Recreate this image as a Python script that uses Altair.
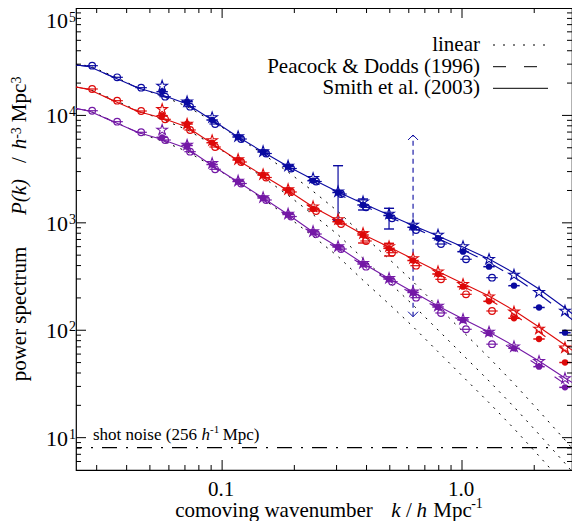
import altair as alt
import pandas as pd

FONT = "Liberation Serif"
BLUE, RED, PURPLE = "#0a0aa0", "#dd0a0a", "#7419a6"
SERIES = ["blue", "red", "purple"]

# ---------------- data ----------------
k_pts = [0.02791, 0.03548, 0.04467, 0.05623, 0.07145, 0.09085, 0.1166, 0.1482, 0.1884, 0.2394,
         0.3043, 0.3868, 0.4964, 0.6251, 0.7943, 1.0097, 1.296, 1.647, 2.094, 2.687]

# open circles (first 17 wavenumbers)
blue_open = [29030, 22640, 18115, 14940, 12060, 8320, 6030, 4420, 3205, 2426, 1855, 1395, 1102, 858, 635, 458, 308.5]
red_open = [17620, 13710, 10990, 9200, 7316, 5082, 3685, 2643, 1938, 1289, 975.5, 677.6, 527, 399, 298, 216.1, 151.1]
purple_open = [11060, 8741, 6965, 5904, 4595, 3150, 2324, 1632, 1145, 787, 570.7, 390.5, 283.2, 201, 144.8, 102.1, 74.2]
# filled circles and stars (wavenumbers 4..20)
blue_filled = [16630, 13420, 9064, 6297, 4566, 3346, 2468, 1916, 1466, 1170, 909, 718, 539, 390.5, 260, 162.9, 94.9]
red_filled = [9940, 8320, 5572, 3846, 2788, 2022, 1345, 1025, 770.5, 579, 446, 334, 254.4, 186, 129.2, 82.9, 50.1]
purple_filled = [6256, 5248, 3492, 2426, 1703, 1196, 821.7, 595.8, 413.9, 300, 224.7, 164.6, 124.6, 94.3, 67.9, 45.8, 29.4]
blue_star = [18790, 13420, 9564, 6364, 4615, 3382, 2598, 1949, 1573, 1209, 955, 770.5, 602, 458, 327, 225.6, 151.1]
red_star = [11400, 8320, 5841, 3888, 2818, 2044, 1413, 1074, 796, 602, 465.6, 350.9, 267.8, 205.3, 148.2, 102.7, 68.8]
purple_star = [7316, 5304, 3583, 2452, 1721, 1209, 830.6, 602, 420.1, 304.6, 228.5, 168.2, 126.5, 96.3, 70.3, 51.4, 35.6]

k_curve = [0.02464, 0.02791, 0.03548, 0.04467, 0.05623, 0.07145, 0.09085, 0.1166, 0.1482, 0.1884, 0.2394,
           0.3043, 0.3868, 0.4964, 0.6251, 0.7943, 1.0097, 1.296, 1.647, 2.094, 2.687, 3.0]
blue_smith = [29470, 28540, 22540, 18000, 15500, 12770, 9064, 6297, 4566, 3346, 2532, 1937, 1514, 1183, 944.6, 754.2, 595.8, 460.6, 341.3, 242.2, 161.1, 132.9]
blue_pd = [29470, 28540, 22540, 18000, 15160, 12500, 8874, 6098, 4374, 3205, 2426, 1855, 1450, 1133, 904.8, 714.9, 558.7, 427.3, 313.2, 217.5, 141.7, 116.8]
blue_lin = [29600, 29026, 23041, 18100, 15167, 12111, 8876, 6233, 4375, 2973, 1966, 1276, 765.8, 460.6, 283.1, 165.8, 97.0, 55.55, 31.89, 17.72, 9.519, 7.128]
red_smith = [18390, 17430, 13620, 10880, 9462, 7802, 5478, 3805, 2759, 2000, 1404, 1051, 778.8, 595.8, 460.6, 352.4, 272.4, 208.4, 152.7, 107.2, 72.9, 60.8]
red_pd = [18390, 17430, 13620, 10880, 9261, 7637, 5361, 3685, 2643, 1916, 1345, 1007, 746.1, 570.7, 441.3, 334, 255.5, 193.4, 140.2, 96.3, 64.1, 53.4]
red_lin = [18300, 17613, 13981, 11000, 9203, 7349, 5386, 3782, 2655, 1804, 1193, 774.1, 464.7, 279.5, 171.8, 100.6, 58.86, 33.71, 19.35, 10.75, 5.776, 4.325]
purple_smith = [11590, 10990, 8685, 6934, 5968, 4921, 3418, 2400, 1703, 1196, 821.7, 595.8, 418.3, 303.3, 227.1, 168.2, 127.3, 96.3, 71.4, 51.7, 35.9, 30.9]
purple_pd = [11590, 10990, 8685, 6934, 5841, 4817, 3346, 2324, 1632, 1145, 787.2, 570.7, 400.7, 290.6, 217.5, 159.4, 119.4, 89.4, 65.5, 46.5, 31.6, 27.2]
purple_lin = [11500, 11060, 8779, 6900, 5779, 4615, 3382, 2375, 1667, 1133, 749.3, 486.1, 291.8, 175.5, 107.9, 63.15, 36.96, 21.17, 12.15, 6.753, 3.627, 2.716]

err_series = ["blue", "blue", "blue", "red", "red"]
err_k = [0.3043, 0.3868, 0.4964, 0.3868, 0.4964]
err_lo = [1063, 1317, 876.3, 649.1, 491.2]
err_hi = [3403, 1667, 1366, 821.7, 644.9]

arrow_k = [0.6251]
arrow_lo = [133.7]
arrow_hi = [6573]

shot_noise = [8.07]

x_major = [0.1, 1.0]
x_minor = [0.03, 0.04, 0.05, 0.06, 0.07, 0.08, 0.09, 0.2, 0.3, 0.4, 0.5, 0.6, 0.7, 0.8, 0.9, 2.0]
y_major = [10, 100, 1000, 10000]
y_minor = [6, 7, 8, 9, 20, 30, 40, 50, 60, 70, 80, 90, 200, 300, 400, 500, 600, 700, 800, 900,
           2000, 3000, 4000, 5000, 6000, 7000, 8000, 9000, 20000, 30000, 40000, 50000, 60000, 70000, 80000, 90000]
x_labels = ["0.1", "1.0"]
y_label_values = [10, 100, 1000, 10000]
y_label_exp = ["1", "2", "3", "4"]

# ---------------- tables ----------------
rows = []
for s, o, f, st in [("blue", blue_open, blue_filled, blue_star),
                    ("red", red_open, red_filled, red_star),
                    ("purple", purple_open, purple_filled, purple_star)]:
    for k, v in zip(k_pts[:17], o):
        rows.append({"series": s, "kind": "open", "k": k, "P": v})
    for k, v in zip(k_pts[3:], f):
        rows.append({"series": s, "kind": "filled", "k": k, "P": v})
    for k, v in zip(k_pts[3:], st):
        rows.append({"series": s, "kind": "star", "k": k, "P": v})
pts = pd.DataFrame(rows)

crow = []
for s, sm, pdd, li in [("blue", blue_smith, blue_pd, blue_lin),
                       ("red", red_smith, red_pd, red_lin),
                       ("purple", purple_smith, purple_pd, purple_lin)]:
    for k, a, b, c in zip(k_curve, sm, pdd, li):
        crow.append({"series": s, "model": "smith", "k": k, "P": a})
        crow.append({"series": s, "model": "pd", "k": k, "P": b})
        crow.append({"series": s, "model": "linear", "k": k, "P": c})
curves = pd.DataFrame(crow)

err = pd.DataFrame({"series": err_series, "k": err_k, "lo": err_lo, "hi": err_hi})
caps = pd.concat([err[["series", "k"]].assign(P=err["lo"]), err[["series", "k"]].assign(P=err["hi"])])
arrow = pd.DataFrame({"k": arrow_k, "lo": arrow_lo, "hi": arrow_hi})

# ---------------- scales ----------------
W, H = 496, 462
xs = alt.Scale(type="log", domain=[0.0246, 2.874], nice=False)
ys = alt.Scale(type="log", domain=[5, 100000], nice=False)
cs = alt.Scale(domain=SERIES, range=[BLUE, RED, PURPLE])


def X(f="k"):
    return alt.X(f"{f}:Q", scale=xs, axis=None)


def Y(f="P"):
    return alt.Y(f"{f}:Q", scale=ys, axis=None)


C = alt.Color("series:N", scale=cs, legend=None)
STAR = ("M0,-1L0.2245,-0.309L0.951,-0.309L0.363,0.118L0.588,0.809L0,0.382"
        "L-0.588,0.809L-0.363,0.118L-0.951,-0.309L-0.2245,-0.309Z")

base_c = alt.Chart(curves)
lin_l = base_c.transform_filter("datum.model == 'linear'").mark_line(
    color="black", strokeDash=[2, 6], strokeWidth=1, clip=True).encode(x=X(), y=Y(), detail="series:N")
pd_l = base_c.transform_filter("datum.model == 'pd'").mark_line(
    strokeDash=[12, 17], strokeWidth=1.1, clip=True).encode(x=X(), y=Y(), color=C)
sm_l = base_c.transform_filter("datum.model == 'smith'").mark_line(
    strokeWidth=1.1, clip=True).encode(x=X(), y=Y(), color=C)

base_p = alt.Chart(pts)
open_c = base_p.transform_filter("datum.kind == 'open'").mark_point(
    shape="circle", filled=False, size=44, strokeWidth=1.2, opacity=1, xOffset=3).encode(x=X(), y=Y(), color=C)
open_b = base_p.transform_filter("datum.kind == 'open'").mark_point(
    shape="stroke", size=130, strokeWidth=1.2, opacity=1, xOffset=3).encode(x=X(), y=Y(), color=C)
fill_c = base_p.transform_filter("datum.kind == 'filled'").mark_point(
    shape="circle", filled=True, size=40, opacity=1).encode(x=X(), y=Y(), color=C)
fill_b = base_p.transform_filter("datum.kind == 'filled'").mark_point(
    shape="stroke", size=130, strokeWidth=1.5, opacity=1).encode(x=X(), y=Y(), color=C)
star_p = base_p.transform_filter("datum.kind == 'star'").mark_point(
    shape=STAR, filled=False, size=125, strokeWidth=1.1, opacity=1).encode(x=X(), y=Y(), color=C)

err_r = alt.Chart(err).mark_rule(strokeWidth=1.2).encode(x=X(), y=Y("lo"), y2="hi:Q", color=C)
err_c = alt.Chart(caps).mark_point(shape="stroke", size=100, strokeWidth=1.4, opacity=1).encode(
    x=X(), y=Y(), color=C)

arr_r = alt.Chart(arrow).mark_rule(strokeDash=[5, 4], strokeWidth=1.1, color=BLUE).encode(
    x=X(), y=Y("lo"), y2="hi:Q")
arr_up = alt.Chart(arrow).mark_point(shape="M-1,1L0,0L1,1", filled=False, size=100, strokeWidth=1,
                                     opacity=1, color=BLUE).encode(x=X(), y=Y("hi"))
arr_dn = alt.Chart(arrow).mark_point(shape="M-1,-1L0,0L1,-1", filled=False, size=100, strokeWidth=1,
                                     opacity=1, color=BLUE).encode(x=X(), y=Y("lo"))

shot = alt.Chart(pd.DataFrame({"P": shot_noise})).mark_rule(
    color="black", strokeDash=[15, 9, 2, 9], strokeWidth=1.1).encode(y=Y())


# ---------------- inward ticks ----------------
def xticks(vals, ln):
    d = alt.Chart(pd.DataFrame({"k": vals}))
    b = d.mark_rule(color="black", strokeWidth=1).encode(x=X(), y=alt.value(H), y2=alt.value(H - ln))
    t = d.mark_rule(color="black", strokeWidth=1).encode(x=X(), y=alt.value(0), y2=alt.value(ln))
    return [b, t]


def yticks(vals, ln):
    d = alt.Chart(pd.DataFrame({"P": vals}))
    l = d.mark_rule(color="black", strokeWidth=1).encode(y=Y(), x=alt.value(0), x2=alt.value(ln))
    r = d.mark_rule(color="black", strokeWidth=1).encode(y=Y(), x=alt.value(W), x2=alt.value(W - ln))
    return [l, r]


ticks = xticks(x_major, 10) + xticks(x_minor, 5) + yticks(y_major, 10) + yticks(y_minor, 5)


# ---------------- text ----------------
def txt(s, x, y, size=21, style="normal", align="left", angle=0):
    return alt.Chart(pd.DataFrame({"t": [s]})).mark_text(
        font=FONT, fontSize=size, fontStyle=style, align=align, baseline="alphabetic",
        angle=angle, color="black").encode(x=alt.value(x), y=alt.value(y), text="t:N")


ylab_df = pd.DataFrame({"P": y_label_values, "base": ["10"] * 4, "exp": y_label_exp})
ylab = alt.Chart(ylab_df).mark_text(font=FONT, fontSize=22, align="right", baseline="alphabetic",
                                    dy=8, color="black").encode(x=alt.value(-8), y=Y(), text="base:N")
yexp = alt.Chart(ylab_df).mark_text(font=FONT, fontSize=14, align="left", baseline="alphabetic",
                                    dy=1, color="black").encode(x=alt.value(-7), y=Y(), text="exp:N")
top_df = pd.DataFrame({"P": [100000], "base": ["10"], "exp": ["5"]})
ylab5 = alt.Chart(top_df).mark_text(font=FONT, fontSize=22, align="right", baseline="alphabetic",
                                    dy=19.5, color="black").encode(x=alt.value(-8), y=Y(), text="base:N")
yexp5 = alt.Chart(top_df).mark_text(font=FONT, fontSize=14, align="left", baseline="alphabetic",
                                    dy=13.5, color="black").encode(x=alt.value(-7), y=Y(), text="exp:N")
xlab = alt.Chart(pd.DataFrame({"k": x_major, "lab": x_labels})).mark_text(
    font=FONT, fontSize=21, align="center", baseline="alphabetic", dx=-1, color="black").encode(
    x=X(), y=alt.value(487.5), text="lab:N")

texts = [
    # x title
    txt("comoving wavenumber", 198, 509, align="center"),
    txt("k", 320, 509, style="italic", align="center"),
    txt("/", 333, 509, align="center"),
    txt("h", 345.7, 509, style="italic", align="center"),
    txt("Mpc", 376.5, 509, align="center"),
    txt("-1", 401, 500, size=14, align="center"),
    # y title
    txt("power spectrum", -50, 306, align="center", angle=270),
    txt("P(k)", -50, 189, style="italic", align="center", angle=270),
    txt("/", -50, 152, align="center", angle=270),
    txt("h", -50, 136, style="italic", align="center", angle=270),
    txt("-3", -55, 125, size=14, align="center", angle=270),
    txt("Mpc", -50, 95, align="center", angle=270),
    txt("3", -55, 72, size=14, align="center", angle=270),
    # shot noise label
    txt("shot noise (256", 17, 432, size=17),
    txt("h", 125.5, 432, size=17, style="italic"),
    txt("-1", 134, 425, size=11),
    txt("Mpc)", 146.7, 432, size=17),
    # legend
    txt("linear", 404, 43, align="right"),
    txt("Peacock & Dodds (1996)", 404, 64.5, align="right"),
    txt("Smith et al. (2003)", 404, 86, align="right"),
]

one = alt.Chart(pd.DataFrame({"a": [0]}))
leg = [
    one.mark_rule(color="black", strokeDash=[2, 8], strokeWidth=1).encode(
        x=alt.value(417), x2=alt.value(472), y=alt.value(37)),
    one.mark_rule(color="black", strokeDash=[13, 18], strokeWidth=1).encode(
        x=alt.value(417), x2=alt.value(472), y=alt.value(58.7)),
    one.mark_rule(color="black", strokeWidth=1).encode(
        x=alt.value(417), x2=alt.value(472), y=alt.value(80.3)),
]

chart = alt.layer(
    shot, lin_l, pd_l, sm_l, arr_r, arr_up, arr_dn, err_r, err_c,
    open_c, open_b, fill_c, fill_b, star_p,
    *ticks, ylab, yexp, ylab5, yexp5, xlab, *texts, *leg
).properties(
    width=W, height=H,
    padding={"left": 68, "top": 0, "right": 0, "bottom": 51},
    autosize=alt.AutoSizeParams(type="none"),
).configure_view(stroke="black", strokeWidth=1.2)

chart.save("out.html", embed_options={"renderer": "svg", "actions": False})
